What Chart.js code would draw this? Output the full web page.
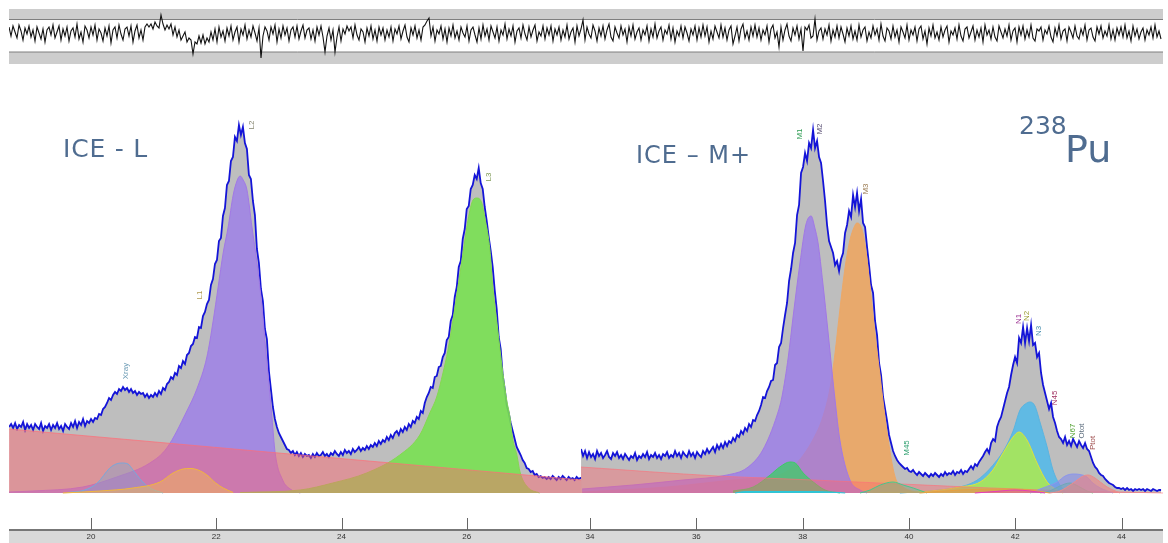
<!DOCTYPE html>
<html>
<head>
<meta charset="utf-8">
<script src="https://cdn.jsdelivr.net/npm/chart.js@4"></script>
<style>
html, body { margin: 0; background: #fff; overflow: hidden; }
canvas, .band, .txt { position: absolute; }
canvas { filter: blur(0.35px); }
.band { left: 9px; width: 1154px; top: 530px; height: 13px; background: #d9d9d9; }
.txt { font-family: "DejaVu Sans", sans-serif; color: #4f6c90; white-space: nowrap; line-height: 1; }
</style>
</head>
<body>
<div class="band"></div>
<canvas id="resid" width="1154" height="55" style="left:9px;top:9px"></canvas>
<canvas id="left" width="573" height="443" style="left:9px;top:100px"></canvas>
<canvas id="right" width="582" height="443" style="left:581px;top:100px"></canvas>
<div class="txt" style="left:63px;top:136px;font-size:25px;letter-spacing:0.8px">ICE - L</div>
<div class="txt" style="left:636px;top:143px;font-size:24px;letter-spacing:1px">ICE – M+</div>
<div class="txt" style="left:1019px;top:113px;font-size:25px">238</div>
<div class="txt" style="left:1065px;top:130px;font-size:38px">Pu</div>
<script>
// Residuals, one value per channel
const residValues = [
  6,-3,7,1,-5,8,2,-7,5,-1,
  7,-4,3,-8,6,0,-6,4,-9,3,
  6,-2,8,-5,1,7,-7,4,-3,6,
  -8,2,5,-4,9,-6,1,-9,7,3,
  -5,6,-2,8,-7,4,0,-8,5,-3,
  7,-10,3,6,-5,8,-1,-7,4,6,
  -3,7,-9,2,8,-5,3,-7,6,9,
  6,9,4,11,7,5,18,9,3,8,
  4,9,-2,6,-4,3,-7,-3,1,-9,
  -5,-7,-21,-9,-11,-3,-10,-2,-11,-5,
  -9,1,-7,4,-9,6,-4,2,-8,5,
  -3,7,-7,1,6,-9,4,-2,8,-6,
  3,-4,7,0,-8,5,-25,-3,6,2,
  -7,6,-1,8,-9,4,-5,7,-2,5,
  -8,3,6,-4,7,-6,2,8,-5,3,
  5,-6,3,-8,6,-2,7,-4,-19,-3,
  5,-7,3,-19,-4,6,-8,4,-1,7,
  2,6,-5,8,-2,-7,4,1,-9,5,
  -3,7,-6,3,-8,6,-2,5,-7,3,
  -4,6,-8,4,-1,7,-6,2,8,-4,
  -9,5,-2,7,-5,3,-7,6,8,12,
  15,-3,6,-8,3,-1,7,-6,4,-9,
  5,-3,8,-5,2,-7,6,0,-4,7,
  -8,3,6,-2,-9,5,-6,8,-3,4,
  -7,7,1,-5,6,-8,3,-2,9,-6,
  4,-3,7,-9,2,5,-5,8,-1,-7,
  6,-4,3,8,-8,1,-3,7,-6,5,
  -2,7,-8,4,-2,6,-7,3,-4,8,
  -6,1,5,-9,7,-3,4,13,-7,6,
  -1,-5,8,2,-8,5,-3,7,-6,3,
  9,-4,-8,6,0,-5,7,-2,4,-9,
  6,-3,8,-6,1,5,-7,3,-2,7,
  -8,4,-4,9,-5,2,6,-7,3,-1,
  8,-6,5,-9,2,-3,7,-5,6,0,
  -8,4,-2,7,-7,5,-4,8,-3,6,
  -9,2,-6,7,1,-5,8,-4,5,-7,
  3,7,-11,-3,6,-8,4,9,-5,2,
  -7,6,-3,8,-4,5,-7,3,-2,7,
  -9,4,8,-5,1,-14,6,-7,3,9,
  -3,-8,5,-2,7,-6,4,-18,6,3,
  8,-5,-3,14,-7,2,5,-6,4,-2,
  8,-8,3,-4,7,-5,6,-1,-9,5,
  -3,7,-6,2,-7,8,-4,3,6,-8,
  1,-5,7,-2,4,-7,9,-3,-8,5,
  2,-6,7,-4,3,-9,6,1,-5,8,
  -7,3,-2,6,-8,4,7,-6,2,-11,
  5,-3,8,-5,1,-7,6,-4,3,7,
  -9,2,-2,5,-6,8,-3,-8,4,6,
  -5,1,7,-7,3,-4,5,-9,8,-2,
  3,-6,6,-4,-8,7,1,-5,4,-3,
  8,-7,2,5,-9,6,-2,7,-6,3,
  -4,8,-5,-8,4,2,6,-7,3,-1,
  7,-4,-9,5,-3,8,-6,2,4,-8,
  6,1,-5,7,-3,-6,4,-2,8,-7,
  3,5,-4,-8,6,-1,7,-5,2,-3,
  8,-6,3,-7,5,-2,6,-4,8,-5,
  2,-8,7,-3,4,-6,1,5,-7,3,
  -2,6,-5,8,-4,2,-6
];
const residLimits = [13.5, -19];

// Spectrum, left part (channels)
const leftCounts = [
  66,69,65,70,64,68,66,71,63,69,
  65,68,63,69,66,64,70,62,67,65,
  69,63,68,65,70,64,67,62,69,66,
  64,70,66,72,65,71,68,74,67,72,
  70,74,71,75,74,79,78,84,86,90,
  95,93,98,101,99,104,102,106,103,105,
  101,104,100,102,98,101,99,100,96,99,
  95,98,96,100,97,102,99,105,103,109,
  111,116,114,120,118,127,125,132,129,138,
  140,147,149,156,155,166,165,177,181,189,
  193,208,214,229,233,252,255,277,285,308,
  312,332,336,356,352,368,358,366,350,344,
  318,314,292,278,244,230,204,192,164,154,
  122,104,86,74,66,60,56,52,48,44,
  43,40,42,38,41,37,40,36,39,37,
  38,35,39,36,40,37,38,41,37,39,
  36,40,38,42,39,37,41,38,43,40,
  42,39,44,41,43,46,42,45,43,47,
  44,48,46,50,47,52,49,53,51,56,
  53,58,55,60,62,58,64,61,66,63,
  69,66,72,70,76,74,82,80,90,96,
  100,106,105,116,117,126,127,136,140,153,
  156,172,178,196,206,226,232,254,264,284,
  287,304,308,318,314,325,310,304,286,272,
  256,242,226,203,184,156,144,118,104,88,
  80,70,62,54,46,42,38,33,30,25,
  24,21,22,18,19,16,17,15,16,14,
  16,14,17,15,13,16,14,17,15,13,
  16,14,15,13,16,14,15,15
];
// Spectrum, right part (channels)
const rightCounts = [
  44,37,42,35,41,36,39,34,42,37,
  40,35,38,42,36,34,40,37,41,35,
  38,34,39,36,33,37,35,40,33,37,
  35,39,36,41,34,38,36,40,35,38,
  34,39,37,41,35,38,36,42,37,40,
  35,41,38,36,42,37,40,35,41,38,
  36,42,39,44,40,43,46,41,48,44,
  49,45,51,47,52,50,55,52,58,56,
  62,59,65,62,69,66,73,72,78,82,
  88,96,95,102,106,112,113,128,130,146,
  150,165,178,190,212,224,240,250,278,288,
  320,326,340,332,350,345,363,345,352,336,
  330,312,292,268,252,246,240,228,232,222,
  234,240,260,268,282,276,298,286,300,282,
  294,270,266,246,228,208,200,172,158,130,
  118,96,84,72,58,50,42,37,33,30,
  28,26,24,25,22,21,23,20,18,21,
  19,17,20,18,16,19,17,20,18,16,
  19,17,21,18,20,19,22,18,21,20,
  23,19,22,21,24,27,24,29,27,31,
  34,37,41,44,40,50,54,52,66,72,
  76,84,92,100,106,118,128,136,130,155,
  150,166,150,165,152,168,148,150,136,140,
  120,108,100,92,84,90,76,70,62,56,
  54,50,56,48,52,47,54,50,46,52,
  48,45,50,44,42,36,30,26,24,20,
  18,17,14,12,10,9,8,6,5,5,
  4,5,3,5,3,4,2,4,3,4,
  3,4,2,4,3,2,4,3,2,3,
  3
];

// Fitted lines, left part
const bgLeftX = [18.69, 27.84];
const bgLeftY = [64, 13];
const xrayX = [19.62,19.90,20.10,20.30,20.40,20.49,20.59,20.67,20.81,20.94,21.15];
const xrayY = [0.5,3,10,25,29,30,29,23,12,5,0];
const l1X = [19.55,20.14,20.67,21.10,21.31,21.47,21.58,21.71,21.85,21.99,22.11,22.27];
const l1Y = [0,2,5,11,20,24,24.5,23,18,10,5,0.5];
const l2X = [18.69,19.07,19.87,20.41,20.94,21.21,21.53,21.69,21.85,21.95,22.03,22.11,22.19,22.27,22.33,22.38,22.43,22.49,22.57,22.65,22.73,22.79,22.82,22.89,22.94,23.06,23.18,23.34];
const l2Y = [1,2,6,16,30,45,82,104,136,172,206,240,266,298,312,317,313,303,266,230,186,143,123,75,40,13,4,0];
const l3X = [22.38,23.34,23.86,24.40,24.93,25.25,25.41,25.52,25.62,25.70,25.78,25.86,25.94,26.02,26.10,26.16,26.24,26.29,26.37,26.41,26.49,26.57,26.64,26.69,26.73,26.80,26.85,26.97,27.16];
const l3Y = [0.5,3,10,20,38,58,80,96,120,143,173,206,240,273,293,295,290,275,243,210,166,123,92,76,55,38,21,6,0];

// Fitted lines, right part
const bgRightX = [33.83,36.40,38.20,39.86,42.50,44.00,44.78];
const bgRightY = [26,17,13,9,3,1,0];
const m1X = [33.85,34.81,35.75,36.58,36.95,37.25,37.52,37.61,37.73,37.82,37.95,38.06,38.16,38.23,38.29,38.38,38.48,38.55,38.61,38.70,38.89,39.08,39.21];
const m1Y = [4,8,13,18,25,43,78,96,136,176,230,268,277,265,250,210,160,123,93,53,13,3,0];
const m3X = [33.85,35.45,36.69,37.33,37.57,37.89,38.19,38.38,38.52,38.61,38.70,38.80,38.89,38.97,39.02,39.10,39.17,39.27,39.36,39.46,39.51,39.59,39.74,39.89,40.21];
const m3Y = [1,6,13,16,18,30,53,76,106,140,183,226,253,266,270,266,250,206,160,116,93,60,16,6,0];
const m2X = [36.69,37.07,37.39,37.57,37.76,37.86,38.01,38.20,38.42,38.70];
const m2Y = [2,6,18,26,31,30,20,11,3,0];
const cyanX = [36.73,36.92,38.14,38.52,38.80];
const cyanY = [0,1.5,1.5,1,0];
const m45X = [39.08,39.27,39.46,39.70,39.89,40.08,40.34];
const m45Y = [0,3,8,11,8,5,0];
const n1X = [41.24,41.62,42.00,42.28,42.56];
const n1Y = [0,1.5,3,2,0];
const n2X = [39.46,40.40,40.96,41.34,41.58,41.77,41.96,42.07,42.22,42.41,42.60,42.79,42.90];
const n2Y = [0.5,2,6,11,23,40,56,61,53,30,11,3,0];
const n3X = [39.83,40.58,41.09,41.34,41.66,41.81,41.96,42.09,42.19,42.28,42.37,42.47,42.60,42.71,42.84,42.97];
const n3Y = [0,3,8,15,33,45,62,83,89,91,87,70,46,23,8,0];
const n45X = [40.21,40.96,41.71,42.28,42.65];
const n45Y = [0,3,4,3,0];
const n67X = [42.47,42.65,42.84,43.03,43.18,43.35,43.46];
const n67Y = [0,2,7,10,7,2,0];
const ototX = [42.28,42.52,42.79,42.94,43.09,43.22,43.35,43.46,43.60,43.84];
const ototY = [0,5,11,17,19,18.5,16,10,5,0];
const ptotX = [42.65,42.84,43.09,43.28,43.37,43.50,43.60,43.73,43.84,43.97];
const ptotY = [0,2,10,17,18,15,11,6,3,0];

// Ticks and peak names
const leftTicks = [20, 22, 24, 26];
const rightTicks = [34, 36, 38, 40, 42, 44];
const leftNames = ['Xray', 'L1', 'L2', 'L3'];
const leftNameX = [20.56, 21.74, 22.56, 26.35];
const leftNameY = [122, 198, 368, 316];
const leftNameColor = ['#6a9ab4', '#b09a50', '#85856f', '#7f9a55'];
const rightNames = ['M1', 'M2', 'M3', 'M45', 'N1', 'N2', 'N3', 'N45', 'N67', 'Otot', 'Ptot'];
const rightNameX = [37.95, 38.33, 39.19, 39.96, 42.07, 42.22, 42.45, 42.75, 43.09, 43.26, 43.46];
const rightNameY = [359, 364, 304, 45, 174, 177, 162, 95, 62, 62, 50];
const rightNameColor = ['#2a9a50', '#554a70', '#9a7a50', '#30a070', '#9a3090', '#9a9a30', '#4a90b0', '#a03060', '#50a030', '#607080', '#a05050'];

function points(xs, ys) {
  return xs.map((x, i) => ({ x: x, y: ys[i] }));
}

// A fitted curve, filled down to zero
function curve(xs, ys, fill, line) {
  return {
    data: points(xs, ys),
    fill: 'origin',
    backgroundColor: fill,
    borderColor: line,
    borderWidth: 1,
    pointRadius: 0,
    cubicInterpolationMode: 'monotone'
  };
}

// The measured spectrum, grey under the blue trace
function spectrum(counts, start, step) {
  return {
    data: counts.map((c, i) => ({ x: start + i * step, y: c })),
    fill: 'origin',
    backgroundColor: '#bebebe',
    borderColor: '#1414d8',
    borderWidth: 1.8,
    pointRadius: 0,
    tension: 0
  };
}

function crearPanel(id, min, max, tickValues, datasets, names, nameX, nameY, nameColor) {
  const labels = {
    id: 'labels',
    afterDraw(chart) {
      const ctx = chart.ctx;
      const xs = chart.scales.x;
      const ys = chart.scales.y;
      ctx.save();
      // tick marks stand above the axis line
      ctx.strokeStyle = '#666';
      ctx.lineWidth = 1;
      xs.ticks.forEach(t => {
        const px = Math.round(xs.getPixelForValue(t.value)) + 0.5;
        ctx.beginPath();
        ctx.moveTo(px, chart.chartArea.bottom - 12);
        ctx.lineTo(px, chart.chartArea.bottom);
        ctx.stroke();
      });
      ctx.font = '8px "Liberation Sans"';
      ctx.textAlign = 'center';
      ctx.textBaseline = 'middle';
      names.forEach((n, i) => {
        ctx.save();
        ctx.translate(xs.getPixelForValue(nameX[i]), ys.getPixelForValue(nameY[i]));
        ctx.rotate(-Math.PI / 2);
        ctx.fillStyle = nameColor[i];
        ctx.fillText(n, 0, 0);
        ctx.restore();
      });
      ctx.restore();
    }
  };
  return new Chart(document.getElementById(id), {
    type: 'line',
    data: { datasets: datasets },
    plugins: [labels],
    options: {
      responsive: false,
      animation: false,
      events: [],
      plugins: { legend: { display: false }, tooltip: { enabled: false } },
      layout: { padding: 0 },
      scales: {
        x: {
          type: 'linear',
          min: min,
          max: max,
          afterBuildTicks: s => { s.ticks = tickValues.map(v => ({ value: v })); },
          afterFit: s => { s.height = 13; },
          grid: { display: false, drawTicks: false },
          border: { color: '#777', width: 2 },
          ticks: { color: '#333', padding: 2, font: { size: 8, family: 'Liberation Sans' }, maxRotation: 0 }
        },
        y: { display: false, min: -37, max: 393 }
      }
    }
  });
}

// Left part: first dataset is drawn on top
crearPanel('left', 18.69, 27.84, leftTicks, [
  curve(l1X, l1Y, 'rgba(250,190,70,.45)', '#f2b63c'),
  curve(xrayX, xrayY, 'rgba(110,170,220,.35)', '#78a8dc'),
  curve(bgLeftX, bgLeftY, 'rgba(255,100,110,.45)', 'rgba(255,110,120,.7)'),
  curve(l3X, l3Y, 'rgba(120,225,80,.88)', '#84d94f'),
  curve(l2X, l2Y, 'rgba(151,116,239,.7)', '#a178e6'),
  spectrum(leftCounts, 18.692, 0.03191)
], leftNames, leftNameX, leftNameY, leftNameColor);

// Right part
crearPanel('right', 33.83, 44.78, rightTicks, [
  curve(n1X, n1Y, 'rgba(230,60,190,.4)', '#e63cbe'),
  curve(n45X, n45Y, 'rgba(235,150,60,.4)', '#e8a040'),
  curve(cyanX, cyanY, 'rgba(40,200,220,.9)', '#28c8dc'),
  curve(ptotX, ptotY, 'rgba(240,130,130,.6)', '#ec8c8c'),
  curve(ototX, ototY, 'rgba(130,140,235,.6)', '#8c96ec'),
  curve(n67X, n67Y, 'rgba(80,215,100,.55)', '#50d264'),
  curve(m45X, m45Y, 'rgba(70,200,140,.35)', '#46c88c'),
  curve(bgRightX, bgRightY, 'rgba(255,100,110,.4)', 'rgba(255,110,120,.6)'),
  curve(m2X, m2Y, 'rgba(60,205,100,.75)', '#3ccd64'),
  curve(m1X, m1Y, 'rgba(151,116,239,.72)', '#a178e6'),
  curve(m3X, m3Y, 'rgba(242,165,90,.82)', '#eda867'),
  curve(n2X, n2Y, 'rgba(170,232,85,.9)', '#dfe23c'),
  curve(n3X, n3Y, 'rgba(85,185,232,.9)', '#5ab4e0'),
  spectrum(rightCounts, 33.831, 0.03763)
], rightNames, rightNameX, rightNameY, rightNameColor);

// Residuals strip
new Chart(document.getElementById('resid'), {
  type: 'line',
  data: {
    datasets: [
      {
        data: residValues.map((v, i) => ({ x: i, y: v })),
        borderColor: '#111',
        borderWidth: 1.1,
        pointRadius: 0,
        tension: 0
      },
      {
        data: [{ x: 0, y: residLimits[0] }, { x: 577, y: residLimits[0] }],
        fill: 'end',
        backgroundColor: '#cdcdcd',
        borderColor: '#7f7f7f',
        borderWidth: 1,
        pointRadius: 0
      },
      {
        data: [{ x: 0, y: residLimits[1] }, { x: 577, y: residLimits[1] }],
        fill: 'start',
        backgroundColor: '#cdcdcd',
        borderColor: '#7f7f7f',
        borderWidth: 1,
        pointRadius: 0
      },
      {
        data: [{ x: 0, y: 23.5 }, { x: 577, y: 23.5 }],
        borderColor: '#8a8a8a',
        borderWidth: 2,
        pointRadius: 0
      },
      {
        data: [{ x: 0, y: -30.5 }, { x: 577, y: -30.5 }],
        borderColor: '#8a8a8a',
        borderWidth: 2,
        pointRadius: 0
      }
    ]
  },
  options: {
    responsive: false,
    animation: false,
    events: [],
    plugins: { legend: { display: false }, tooltip: { enabled: false } },
    layout: { padding: 0 },
    scales: {
      x: { type: 'linear', display: false, min: 0, max: 577 },
      y: { display: false, min: -31, max: 24 }
    }
  }
});
</script>
</body>
</html>
